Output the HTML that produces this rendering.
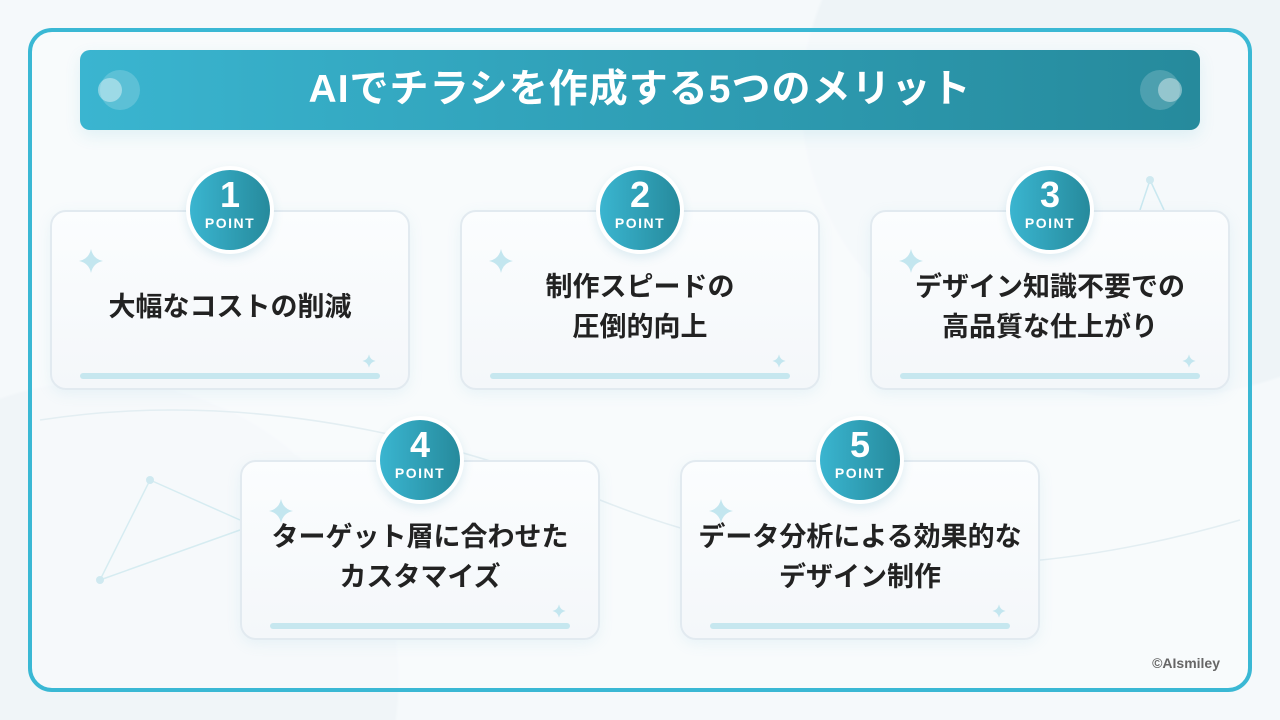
<!DOCTYPE html>
<html style="width:1280px;height:720px;overflow:hidden"><head><meta charset="utf-8"><style>
*{margin:0;padding:0;box-sizing:border-box}
body{width:1280px;height:720px;position:relative;overflow:hidden;font-family:"Liberation Sans","Noto Sans CJK JP",sans-serif;
background:radial-gradient(ellipse 350px 300px at 1150px 100px,#eef4f7 99%,transparent 100%),radial-gradient(circle 300px at 100px 680px,#f0f5f8 99%,transparent 100%),#f5f9fb}
.frame{position:absolute;left:28px;top:28px;width:1224px;height:664px;border:4px solid #3ab8d4;border-radius:24px;background:rgba(250,252,253,0.6)}
.hdr{position:absolute;left:80px;top:50px;width:1120px;height:80px;border-radius:10px;background:linear-gradient(90deg,#3ab5d0,#2f9fb6 50%,#268a9c);box-shadow:0 6px 16px rgba(60,170,200,0.12);color:#fff;font-weight:bold;font-size:39px;text-align:center;line-height:80px;letter-spacing:1px}
.dot{position:absolute;width:40px;height:40px;border-radius:50%;background:rgba(255,255,255,0.18);top:20px}
.dot i{position:absolute;width:24px;height:24px;border-radius:50%;background:rgba(255,255,255,0.4);top:8px}
.card{position:absolute;width:360px;height:180px;border:2px solid #e2eaf0;border-radius:16px;background:linear-gradient(180deg,#fbfdfe,#f4f7fa);box-shadow:0 4px 14px rgba(120,190,210,0.12)}
.card .t{position:absolute;left:0;right:0;text-align:center;font-weight:bold;font-size:27px;color:#222;line-height:40px}
.card .bar{position:absolute;left:28px;right:28px;bottom:9px;height:6px;border-radius:3px;background:#c6e7ef}
.circ{position:absolute;width:88px;height:88px;border-radius:50%;background:#fff;box-shadow:0 4px 10px rgba(60,150,180,0.15)}
.circ div{position:absolute;left:4px;top:4px;width:80px;height:80px;border-radius:50%;background:linear-gradient(90deg,#3ab5d0,#268a9c);color:#fff;text-align:center;font-weight:bold}
.circ b{display:block;font-size:36px;line-height:36px;margin-top:7px}
.circ span{display:block;font-size:14px;letter-spacing:1.5px;margin-top:2px}
.sp{position:absolute}
</style></head><body>
<div class="frame"></div>
<svg style="position:absolute;left:0;top:0" width="1280" height="720">
<defs><path id="st" d="M0 -12 Q2 -2 12 0 Q2 2 0 12 Q-2 2 -12 0 Q-2 -2 0 -12Z" fill="#c3e6ef"/></defs>
<path d="M40 420 Q300 380 600 500 T1240 520" fill="none" stroke="#e3eef2" stroke-width="1.5"/>
<line x1="100" y1="580" x2="150" y2="480" stroke="#d6ecf1" stroke-width="1.5"/>
<line x1="100" y1="580" x2="240" y2="530" stroke="#d6ecf1" stroke-width="1.5"/>
<line x1="150" y1="480" x2="240" y2="520" stroke="#d6ecf1" stroke-width="1.5"/>
<circle cx="100" cy="580" r="4" fill="#cfe9f0"/><circle cx="150" cy="480" r="4" fill="#cfe9f0"/>
<line x1="1150" y1="180" x2="1140" y2="210" stroke="#c9e8f0" stroke-width="1.5"/>
<line x1="1150" y1="180" x2="1164" y2="210" stroke="#c9e8f0" stroke-width="1.5"/>
<circle cx="1150" cy="180" r="4" fill="#cfe9f0"/>
</svg>
<div class="hdr">AIでチラシを作成する5つのメリット
<div class="dot" style="left:20px"><i style="left:-2px"></i></div>
<div class="dot" style="right:20px"><i style="right:-2px"></i></div>
</div>

<div class="card" style="left:50px;top:210px"><svg class="sp" style="left:26px;top:36px" width="26" height="26"><use href="#st" x="13" y="13"/></svg><div class="t" style="top:75px">大幅なコストの削減</div><svg class="sp" style="right:32px;bottom:20px" width="14" height="14"><use href="#st" transform="translate(7 7) scale(0.55)"/></svg><div class="bar"></div></div>
<div class="card" style="left:460px;top:210px"><svg class="sp" style="left:26px;top:36px" width="26" height="26"><use href="#st" x="13" y="13"/></svg><div class="t" style="top:55px">制作スピードの<br>圧倒的向上</div><svg class="sp" style="right:32px;bottom:20px" width="14" height="14"><use href="#st" transform="translate(7 7) scale(0.55)"/></svg><div class="bar"></div></div>
<div class="card" style="left:870px;top:210px"><svg class="sp" style="left:26px;top:36px" width="26" height="26"><use href="#st" x="13" y="13"/></svg><div class="t" style="top:55px">デザイン知識不要での<br>高品質な仕上がり</div><svg class="sp" style="right:32px;bottom:20px" width="14" height="14"><use href="#st" transform="translate(7 7) scale(0.55)"/></svg><div class="bar"></div></div>
<div class="card" style="left:240px;top:460px"><svg class="sp" style="left:26px;top:36px" width="26" height="26"><use href="#st" x="13" y="13"/></svg><div class="t" style="top:55px">ターゲット層に合わせた<br>カスタマイズ</div><svg class="sp" style="right:32px;bottom:20px" width="14" height="14"><use href="#st" transform="translate(7 7) scale(0.55)"/></svg><div class="bar"></div></div>
<div class="card" style="left:680px;top:460px"><svg class="sp" style="left:26px;top:36px" width="26" height="26"><use href="#st" x="13" y="13"/></svg><div class="t" style="top:55px">データ分析による効果的な<br>デザイン制作</div><svg class="sp" style="right:32px;bottom:20px" width="14" height="14"><use href="#st" transform="translate(7 7) scale(0.55)"/></svg><div class="bar"></div></div>

<div class="circ" style="left:186px;top:166px"><div><b>1</b><span>POINT</span></div></div>
<div class="circ" style="left:596px;top:166px"><div><b>2</b><span>POINT</span></div></div>
<div class="circ" style="left:1006px;top:166px"><div><b>3</b><span>POINT</span></div></div>
<div class="circ" style="left:376px;top:416px"><div><b>4</b><span>POINT</span></div></div>
<div class="circ" style="left:816px;top:416px"><div><b>5</b><span>POINT</span></div></div>

<div style="position:absolute;right:60px;top:655px;font-size:14px;font-weight:bold;color:#666">©AIsmiley</div>
</body></html>
